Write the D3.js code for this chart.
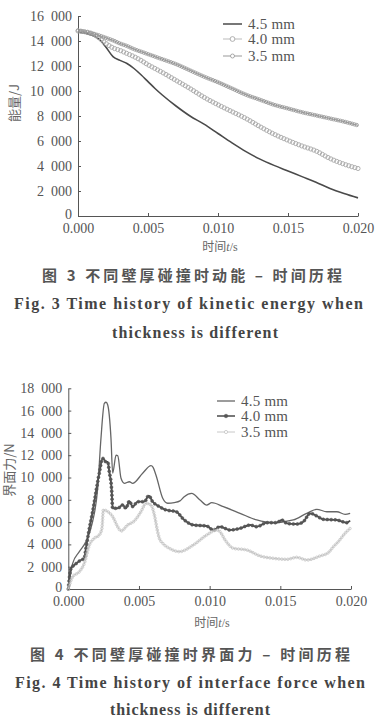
<!DOCTYPE html>
<html><head><meta charset="utf-8">
<script src="https://cdn.jsdelivr.net/npm/d3@7"></script>
<style>
html,body{margin:0;padding:0;background:#fff;}
svg{display:block;}
</style></head>
<body>
<script>
// ---------- DATA ----------
// Fig.3 kinetic energy (J) vs time (s)
const energyTime = [0,0.001,0.0015,0.002,0.0025,0.003,0.0035,0.004,0.0045,0.005,0.0055,0.006,0.007,0.008,0.009,0.010,0.011,0.012,0.013,0.014,0.015,0.016,0.017,0.018,0.019,0.020];
const energy45 = [14700,14450,14150,13500,12750,12450,12200,11800,11300,10750,10200,9700,8800,8000,7350,6600,5850,5150,4550,4050,3600,3150,2700,2200,1800,1450];
const energy40 = [14800,14600,14250,13800,13450,13250,13000,12750,12450,12100,11800,11500,10850,10200,9500,8900,8350,7800,7150,6550,6050,5600,5200,4600,4150,3800];
const energy35 = [14850,14600,14450,14250,14050,13800,13600,13350,13150,12950,12750,12550,12150,11650,11150,10700,10200,9700,9300,8900,8600,8300,8050,7800,7550,7250];

// Fig.4 interface force (N) vs time (s)
const force45Time = [0,0.00031,0.00078,0.00125,0.00172,0.00208,0.00231,0.00255,0.00267,0.00279,0.00302,0.00314,0.00338,0.0035,0.00373,0.00397,0.00432,0.00455,0.00526,0.00585,0.0060,0.0062,0.00668,0.00703,0.0075,0.0079,0.0082,0.00873,0.00932,0.00979,0.01015,0.01097,0.01215,0.01333,0.01451,0.01592,0.01687,0.01758,0.01829,0.0190,0.01958,0.01994];
const force45 = [0,2300,3350,4250,6040,9030,13500,16650,16750,16500,13500,10400,12000,11950,9930,9480,9620,9480,10380,11060,10900,10230,8140,7690,7750,7900,8280,8580,7980,7530,7740,7380,6790,6190,5950,6190,6790,7150,6930,6930,6700,6790];

const force40Time = [0,0.00019,0.00043,0.0009,0.00113,0.00125,0.00149,0.00172,0.00196,0.00219,0.00243,0.00267,0.00279,0.0029,0.00306,0.00314,0.00349,0.00385,0.00408,0.00432,0.00455,0.00491,0.00538,0.00569,0.00597,0.00644,0.00691,0.00762,0.00821,0.00885,0.00979,0.01026,0.01073,0.01144,0.01215,0.01286,0.01333,0.01404,0.01475,0.0151,0.01546,0.01616,0.01663,0.01711,0.01758,0.01805,0.01899,0.0197,0.01994];
const force40 = [0,1860,2150,2600,2750,3650,5440,6930,8730,10380,11720,11400,11400,10520,9030,7240,7240,7540,7240,7890,7390,7830,7830,8370,7830,7390,7090,6940,6190,5740,5650,5290,5590,5290,5440,5740,5590,5950,5950,6190,5890,5830,6040,6790,6550,6250,6190,5950,6130];

const force35Time = [0,0.00031,0.00078,0.00113,0.00149,0.00184,0.00219,0.00238,0.00248,0.00279,0.00314,0.00349,0.00373,0.0042,0.00467,0.00514,0.0055,0.00585,0.00609,0.00632,0.00644,0.00668,0.00715,0.00786,0.00885,0.00979,0.0105,0.01073,0.01109,0.01168,0.01262,0.01357,0.01451,0.01546,0.01616,0.01687,0.01781,0.0184,0.01875,0.0191,0.01958,0.01994];
const force35 = [0,1100,1550,2300,3950,4550,4840,5440,7090,6940,6490,5590,5200,5740,6100,6930,7690,7530,6640,5140,4550,4100,3650,3350,3950,4840,5290,5140,4400,3650,3500,2960,2750,2660,2840,2600,2960,3260,3790,4240,5000,5440];

const seriesLabels = ["4.5 mm","4.0 mm","3.5 mm"];
const xTicks = [0,0.005,0.010,0.015,0.020];
const yTicksEnergy = [0,2000,4000,6000,8000,10000,12000,14000,16000];
const yTicksForce = [0,2000,4000,6000,8000,10000,12000,14000,16000,18000];

// ---------- DRAW ----------
const W = 388, H = 726;
const svg = d3.select("body").append("svg").attr("width",W).attr("height",H);
svg.append("rect").attr("width",W).attr("height",H).attr("fill","#fff");

const SERIF = "'Liberation Serif','DejaVu Serif',serif";
const CJK = "'Noto Sans CJK SC','Noto Sans',sans-serif";
const fmtY = d => d === 0 ? "0" : d3.format(",")(d).replace(/,/g,"\u2002");
const fmtX = d3.format(".3f");

function decorate(g, pathNode, spacing, r, fill, stroke, sw){
  const L = pathNode.getTotalLength();
  for(let s=0; s<=L; s+=spacing){
    const p = pathNode.getPointAtLength(s);
    g.append("circle").attr("cx",p.x).attr("cy",p.y).attr("r",r)
      .attr("fill",fill).attr("stroke",stroke).attr("stroke-width",sw);
  }
}

function drawChart(cfg){
  const g = svg.append("g");
  const x = d3.scaleLinear().domain([0,0.02]).range([cfg.x0,cfg.x1]);
  const y = d3.scaleLinear().domain([0,cfg.ymax]).range([cfg.y0,cfg.y1]);

  const ya = g.append("g").attr("transform",`translate(${cfg.x0},0)`)
    .call(d3.axisLeft(y).tickValues(cfg.yTicks).tickFormat(fmtY).tickSize(-3).tickSizeOuter(0).tickPadding(6));
  const xa = g.append("g").attr("transform",`translate(0,${cfg.y0})`)
    .call(d3.axisBottom(x).tickValues(xTicks).tickFormat(fmtX).tickSize(-3).tickSizeOuter(0).tickPadding(7));
  [ya,xa].forEach(a=>{
    a.selectAll("path,line").attr("stroke","#555").attr("stroke-width",1);
    a.selectAll("text").attr("fill","#555").style("font-family",SERIF).style("font-size","14px");
  });
  ya.selectAll(".tick").filter(d=>d===0).select("text").attr("dy","0.2em");

  // axis titles
  const xt = g.append("text").attr("x",cfg.xTitleX).attr("y",cfg.xTitleY)
    .attr("text-anchor","middle").attr("fill","#666").style("font-family",CJK).style("font-size","12px");
  xt.append("tspan").text("时间");
  xt.append("tspan").attr("font-style","italic").style("font-family",SERIF).text("t");
  xt.append("tspan").style("font-family",SERIF).text("/s");

  g.append("text").attr("transform",`translate(${cfg.yTitleX},${cfg.yTitleY}) rotate(-90)`)
    .attr("text-anchor","middle").attr("fill","#666").style("font-family",CJK).style("font-size","13px")
    .text(cfg.yTitle);

  cfg.series.forEach((s,i)=>{
    const line = d3.line().x((d,k)=>x(s.t[k])).y(d=>y(d)).curve(d3.curveMonotoneX);
    const p = g.append("path").attr("d",line(s.v)).attr("fill","none")
      .attr("stroke",s.stroke).attr("stroke-width",s.sw).attr("stroke-linejoin","round");
    if(s.marker) decorate(g, p.node(), s.marker.spacing, s.marker.r, s.marker.fill, s.marker.stroke, s.marker.sw);

    // legend
    const ly = cfg.legendY[i];
    g.append("line").attr("x1",cfg.legX0).attr("x2",cfg.legX1).attr("y1",ly).attr("y2",ly)
      .attr("stroke",s.legendStroke||s.stroke).attr("stroke-width",Math.min(s.sw,1.5));
    if(s.marker){
      g.append("circle").attr("cx",(cfg.legX0+cfg.legX1)/2).attr("cy",ly).attr("r",s.marker.r+0.3)
        .attr("fill",s.marker.fill==="none"?"#fff":s.marker.fill).attr("stroke",s.marker.stroke).attr("stroke-width",s.marker.sw);
    }
    g.append("text").attr("x",cfg.legX1+6).attr("y",ly).attr("dy","0.35em")
      .attr("fill","#555").style("font-family",SERIF).style("font-size","15px")
      .attr("textLength",47).attr("lengthAdjust","spacing").text(seriesLabels[i]);
  });

  // captions
  cfg.captions.forEach(c=>{
    g.append("text").attr("x",c.x).attr("y",c.y).attr("fill",c.fill||"#444")
      .style("font-family",c.font).style("font-size",c.size+"px").style("font-weight",c.weight)
      .attr("textLength",c.len).attr("lengthAdjust","spacing").text(c.text);
  });
}

drawChart({
  x0:78, x1:358, y0:216, y1:16, ymax:16000, yTicks:yTicksEnergy,
  xTitleX:220, xTitleY:251, yTitleX:19, yTitleY:103, yTitle:"能量/J",
  legX0:223, legX1:242, legendY:[24,39,56],
  series:[
    {t:energyTime, v:energy45, stroke:"#4a4a4a", sw:1.6},
    {t:energyTime, v:energy40, stroke:"rgba(0,0,0,0)", legendStroke:"#aaa", sw:0.8, marker:{spacing:3.2,r:2.1,fill:"none",stroke:"#a8a8a8",sw:0.9}},
    {t:energyTime, v:energy35, stroke:"#999", sw:1, marker:{spacing:2.4,r:1.7,fill:"none",stroke:"#959595",sw:0.8}}
  ],
  captions:[
    {x:42, y:281, text:"图 3   不同壁厚碰撞时动能 – 时间历程", font:CJK, size:15, weight:"bold", fill:"#555", len:300},
    {x:14, y:309, text:"Fig. 3   Time history of kinetic energy when", font:SERIF, size:16, weight:"bold", len:349},
    {x:112, y:338, text:"thickness is different", font:SERIF, size:16, weight:"bold", len:166}
  ]
});
drawChart({
  x0:68.3, x1:351, y0:589, y1:388.3, ymax:18000, yTicks:yTicksForce,
  xTitleX:212, xTitleY:627, yTitleX:14, yTitleY:470, yTitle:"界面力/N",
  legX0:217, legX1:235, legendY:[401,416,432],
  series:[
    {t:force45Time, v:force45, stroke:"#666", sw:1.3},
    {t:force40Time, v:force40, stroke:"#4a4a4a", sw:1.8, marker:{spacing:4,r:1.5,fill:"#555",stroke:"#555",sw:0.5}},
    {t:force35Time, v:force35, stroke:"#c8c8c8", sw:1, marker:{spacing:3,r:1.3,fill:"none",stroke:"#bdbdbd",sw:0.7}}
  ],
  captions:[
    {x:30, y:660, text:"图 4   不同壁厚碰撞时界面力 – 时间历程", font:CJK, size:15, weight:"bold", fill:"#555", len:320},
    {x:15, y:688, text:"Fig. 4   Time history of interface force when", font:SERIF, size:16, weight:"bold", len:350},
    {x:110, y:715, text:"thickness is different", font:SERIF, size:16, weight:"bold", len:160}
  ]
});
</script>
</body></html>
